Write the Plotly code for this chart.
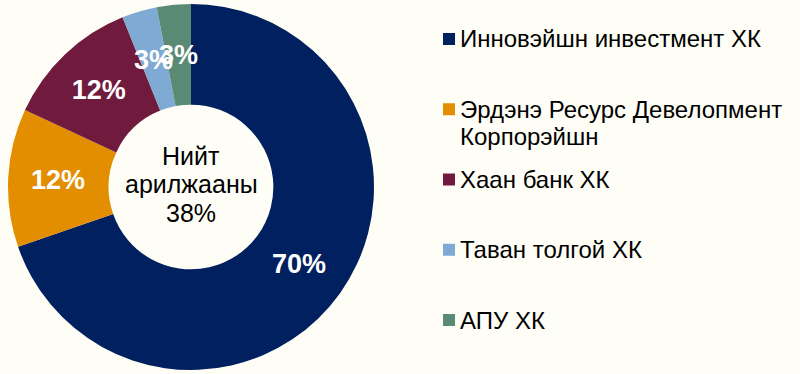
import math
import plotly.graph_objects as go

labels = ["Инновэйшн инвестмент ХК", "Эрдэнэ Ресурс Девелопмент<br>Корпорэйшн",
          "Хаан банк ХК", "Таван толгой ХК", "АПУ ХК"]
values = [69.7, 12.2, 12.0, 3.1, 3.0]
pct_text = ["70%", "12%", "12%", "3%", "3%"]
colors = ["#002060", "#E38E00", "#701A3E", "#7FAAD3", "#5A8A74"]
center_lines = ["Нийт", "арилжааны", "38%"]

W, H = 800, 374
BG = "#FFFEF6"
FONT = "Liberation Sans, Arial, sans-serif"

cx, cy, R = 191, 187, 183
hole = 0.45
dom_x = [(cx - R) / W, (cx + R) / W]
dom_y = [(H - cy - R) / H, (H - cy + R) / H]

small = [v < 5 for v in values]
fig = go.Figure(go.Pie(
    labels=labels, values=values, sort=False, direction="clockwise", rotation=0,
    hole=hole, marker=dict(colors=colors, line=dict(width=0)),
    text=[("" if s else t) for s, t in zip(small, pct_text)],
    textinfo="text", textposition="inside", insidetextorientation="horizontal",
    textfont=dict(family=FONT, size=27, color="white", weight="bold"),
    domain=dict(x=dom_x, y=dom_y), showlegend=False, hoverinfo="label+percent",
))

# labels for the thin slices, at the centroid of their ring segment
total = sum(values)
cum = 0
rmid = R * (1 + hole) / 2
for v, t, s in zip(values, pct_text, small):
    mid = (cum + v / 2) / total * 2 * math.pi
    cum += v
    if not s:
        continue
    px = cx + rmid * math.sin(mid)
    py = cy - rmid * math.cos(mid)
    fig.add_annotation(x=px / W, y=1 - py / H, xref="paper", yref="paper", text=t,
                       showarrow=False, xanchor="center", yanchor="middle",
                       font=dict(family=FONT, size=27, color="white", weight="bold"))

# centre text, one annotation per line for tight line spacing
for k, ln in enumerate(center_lines):
    yc = cy - 3 + (k - 1) * 28.5
    fig.add_annotation(x=cx / W, y=1 - yc / H, xref="paper", yref="paper", text=ln,
                       showarrow=False, xanchor="center", yanchor="middle",
                       font=dict(family=FONT, size=25, color="black"))

# legend
leg_x0, leg_y0, leg_step, line_h = 443, 39, 70.25, 27
for i, (lab, col) in enumerate(zip(labels, colors)):
    yc = leg_y0 + i * leg_step
    fig.add_shape(type="rect", xref="paper", yref="paper",
                  x0=leg_x0 / W, x1=(leg_x0 + 12) / W,
                  y0=1 - (yc + 6) / H, y1=1 - (yc - 6) / H,
                  fillcolor=col, line=dict(width=0))
    for j, part in enumerate(lab.split("<br>")):
        fig.add_annotation(x=(leg_x0 + 15) / W, y=1 - (yc + j * line_h) / H,
                           xref="paper", yref="paper", text=part, showarrow=False,
                           xanchor="left", yanchor="middle", align="left",
                           font=dict(family=FONT, size=24, color="black"))

fig.update_layout(width=W, height=H, margin=dict(l=0, r=0, t=0, b=0),
                  paper_bgcolor=BG, plot_bgcolor=BG)
fig.write_html("out.html")
